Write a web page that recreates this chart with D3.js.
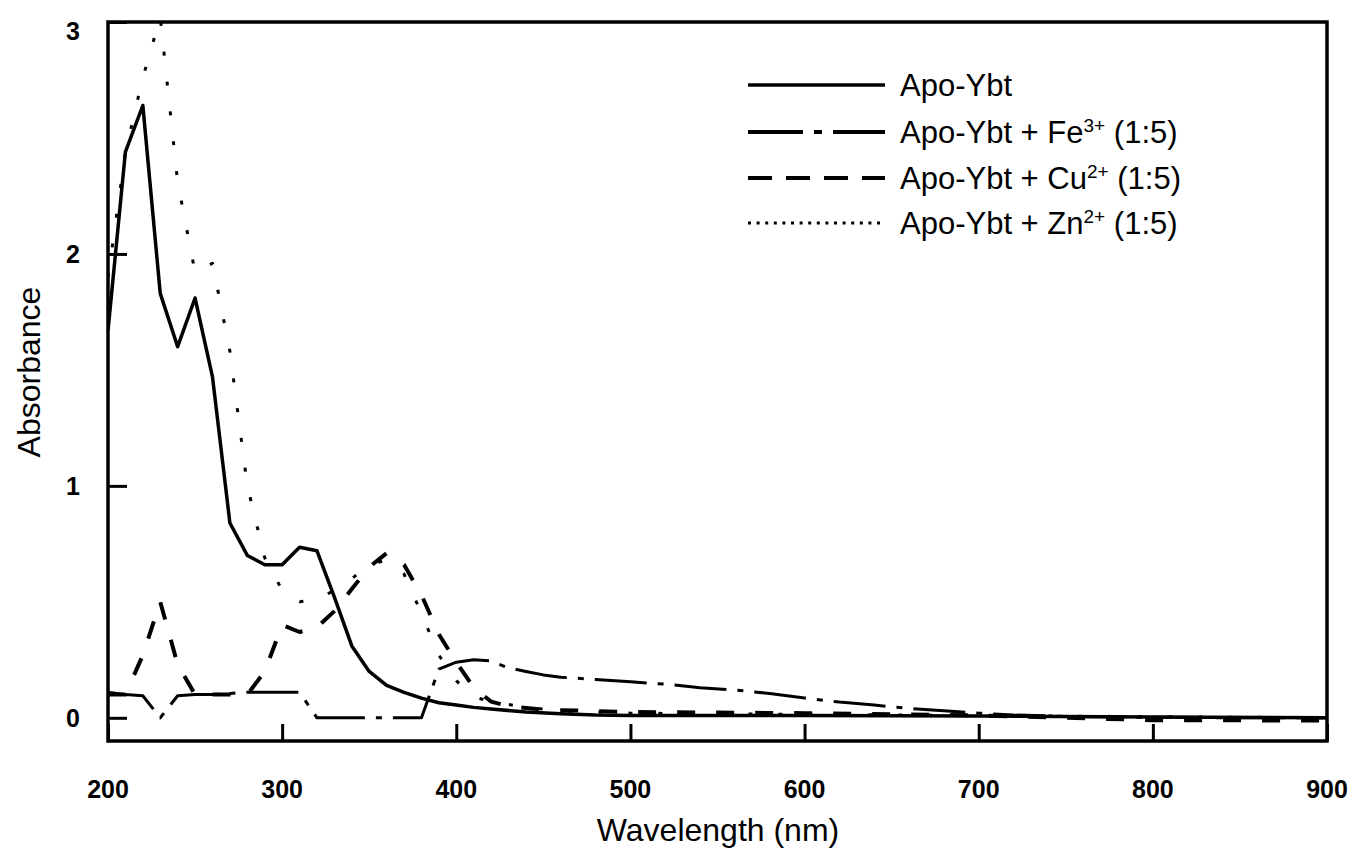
<!DOCTYPE html>
<html>
<head>
<meta charset="utf-8">
<script src="https://cdn.jsdelivr.net/npm/d3@7/dist/d3.min.js"></script>
<style>
  body { margin: 0; background: #fff; }
  svg { display: block; font-family: "Liberation Sans", Arial, sans-serif; }
</style>
</head>
<body>
<svg id="chart" width="1355" height="852"></svg>
<script>
// ---- data ----
// Apo-Ybt (solid)
var apoWl  = [200, 210, 220, 230, 240, 250, 260, 270, 280, 290, 300, 310, 320, 330, 340, 350, 360, 370, 380, 390, 400, 410, 420, 440, 460, 480, 500, 600, 700, 800, 900];
var apoAbs = [1.67, 2.44, 2.64, 1.83, 1.60, 1.81, 1.47, 0.84, 0.70, 0.66, 0.66, 0.735, 0.72, 0.52, 0.31, 0.20, 0.14, 0.11, 0.085, 0.065, 0.055, 0.045, 0.038, 0.025, 0.018, 0.012, 0.01, 0.01, 0.008, 0.004, 0.0];
// Apo-Ybt + Fe3+ (dash-dot)
var feWl  = [200, 210, 220, 230, 240, 250, 260, 270, 280, 290, 300, 310, 320, 330, 340, 350, 360, 370, 380, 390, 400, 410, 420, 430, 440, 450, 460, 480, 500, 520, 540, 560, 580, 600, 620, 640, 660, 680, 700, 720, 750, 800, 850, 900];
var feAbs = [0.11, 0.10, 0.095, 0.0, 0.095, 0.10, 0.10, 0.105, 0.11, 0.11, 0.11, 0.11, 0.0, 0.0, 0.0, 0.0, 0.0, 0.0, 0.0, 0.21, 0.24, 0.25, 0.245, 0.215, 0.20, 0.185, 0.175, 0.165, 0.155, 0.145, 0.13, 0.12, 0.105, 0.085, 0.068, 0.055, 0.04, 0.03, 0.02, 0.012, 0.006, 0.002, 0.0, 0.0];
// Apo-Ybt + Cu2+ (dashed)
var cuWl  = [200, 210, 220, 230, 240, 250, 260, 270, 280, 290, 300, 310, 320, 330, 340, 350, 360, 370, 380, 390, 400, 410, 420, 430, 450, 500, 600, 700, 750, 800, 900];
var cuAbs = [0.10, 0.10, 0.27, 0.50, 0.23, 0.10, 0.10, 0.10, 0.10, 0.20, 0.40, 0.37, 0.39, 0.46, 0.555, 0.65, 0.71, 0.66, 0.53, 0.36, 0.24, 0.13, 0.07, 0.05, 0.035, 0.025, 0.02, 0.01, 0.0, -0.01, -0.012];
// Apo-Ybt + Zn2+ (dotted)
var znWl  = [200, 210, 220, 230, 240, 250, 260, 270, 280, 290, 300, 310, 320, 330, 340, 350, 360, 370, 380, 390, 400, 410, 420, 440, 460, 500, 600, 700, 800, 900];
var znAbs = [1.90, 2.44, 2.76, 3.02, 2.31, 1.92, 1.96, 1.58, 1.00, 0.69, 0.55, 0.50, 0.51, 0.55, 0.60, 0.66, 0.68, 0.62, 0.45, 0.27, 0.16, 0.09, 0.07, 0.045, 0.03, 0.02, 0.015, 0.01, 0.005, 0.0];

var xTicks = [200, 300, 400, 500, 600, 700, 800, 900];
var yTicks = [0, 1, 2, 3];
var legendNames = ["Apo-Ybt", "Apo-Ybt + Fe", "Apo-Ybt + Cu", "Apo-Ybt + Zn"];
var legendSups  = ["", "3+", "2+", "2+"];
var legendTails = ["", " (1:5)", " (1:5)", " (1:5)"];

// ---- layout ---- (no "top"/"bottom" globals: window.top is read-only)
var plotLeft = 108, plotTop = 22, plotRight = 1327, plotBottom = 741;
var svg = d3.select('#chart');

var x = d3.scaleLinear().domain([200, 900]).range([plotLeft, plotRight]);
var y = d3.scaleLinear().domain([-0.1, 3]).range([plotBottom, plotTop]);

// clip so the Zn peak is cut at the frame
svg.append('defs').append('clipPath').attr('id', 'plotClip')
  .append('rect')
  .attr('x', plotLeft).attr('y', plotTop)
  .attr('width', plotRight - plotLeft).attr('height', plotBottom - plotTop);

// line styles: plot dash pattern + legend dash pattern
var series = [
  {wl: apoWl, abs: apoAbs, width: 3.5, dash: null,          legDash: null},
  {wl: feWl,  abs: feAbs,  width: 3,   dash: '52,11,6,11',  legDash: '55,11,8,11'},
  {wl: cuWl,  abs: cuAbs,  width: 4,   dash: '18,21',       legDash: '24,14'},
  {wl: znWl,  abs: znAbs,  width: 3,   dash: '4,26',        legDash: '3,5.6'}
];

var line = d3.line()
  .x(function(d) { return x(d[0]); })
  .y(function(d) { return y(d[1]); });

var plot = svg.append('g').attr('clip-path', 'url(#plotClip)');
series.forEach(function(s) {
  var pts = s.wl.map(function(w, i) { return [w, s.abs[i]]; });
  plot.append('path')
    .attr('d', line(pts))
    .attr('fill', 'none')
    .attr('stroke', '#000')
    .attr('stroke-width', s.width)
    .attr('stroke-linejoin', 'round')
    .attr('stroke-dasharray', s.dash);
});

// frame
svg.append('rect')
  .attr('x', plotLeft).attr('y', plotTop)
  .attr('width', plotRight - plotLeft).attr('height', plotBottom - plotTop)
  .attr('fill', 'none')
  .attr('stroke', '#000')
  .attr('stroke-width', 3.5);

// axes with inward ticks
var xAxis = svg.append('g')
  .attr('transform', 'translate(0,' + plotBottom + ')')
  .call(d3.axisTop(x).tickValues(xTicks).tickSize(17).tickFormat(''));
var yAxis = svg.append('g')
  .attr('transform', 'translate(' + plotLeft + ',0)')
  .call(d3.axisRight(y).tickValues(yTicks).tickSize(19).tickFormat(''));
[xAxis, yAxis].forEach(function(a) {
  a.select('.domain').remove();
  a.selectAll('line').attr('stroke', '#000').attr('stroke-width', 3);
});

// tick labels
svg.append('g').selectAll('text')
  .data(xTicks).enter().append('text')
  .attr('x', function(d) { return x(d); })
  .attr('y', 798)
  .attr('text-anchor', 'middle')
  .attr('font-size', 25)
  .attr('font-weight', 'bold')
  .text(function(d) { return d; });

svg.append('g').selectAll('text')
  .data(yTicks).enter().append('text')
  .attr('x', 80)
  .attr('y', function(d) { return Math.max(y(d), 31) + 9; })
  .attr('text-anchor', 'end')
  .attr('font-size', 25)
  .attr('font-weight', 'bold')
  .text(function(d) { return d; });

// axis titles
svg.append('text')
  .attr('x', 718).attr('y', 841)
  .attr('text-anchor', 'middle')
  .attr('font-size', 32)
  .text('Wavelength (nm)');

svg.append('text')
  .attr('transform', 'translate(40,372) rotate(-90)')
  .attr('text-anchor', 'middle')
  .attr('font-size', 32)
  .text('Absorbance');

// legend
var legend = svg.append('g');
var rowY = [85, 132, 178, 223];
series.forEach(function(s, i) {
  legend.append('line')
    .attr('x1', 748).attr('x2', 885)
    .attr('y1', rowY[i]).attr('y2', rowY[i])
    .attr('stroke', '#000')
    .attr('stroke-width', i === 0 ? 3.5 : (i === 3 ? 3 : 4))
    .attr('stroke-dasharray', s.legDash);

  var t = legend.append('text')
    .attr('x', 900).attr('y', rowY[i] + 11)
    .attr('font-size', 31);
  t.append('tspan').text(legendNames[i]);
  if (legendSups[i]) {
    t.append('tspan').attr('font-size', 19).attr('dy', -11).text(legendSups[i]);
    t.append('tspan').attr('dy', 11).text(legendTails[i]);
  }
});
</script>
</body>
</html>
